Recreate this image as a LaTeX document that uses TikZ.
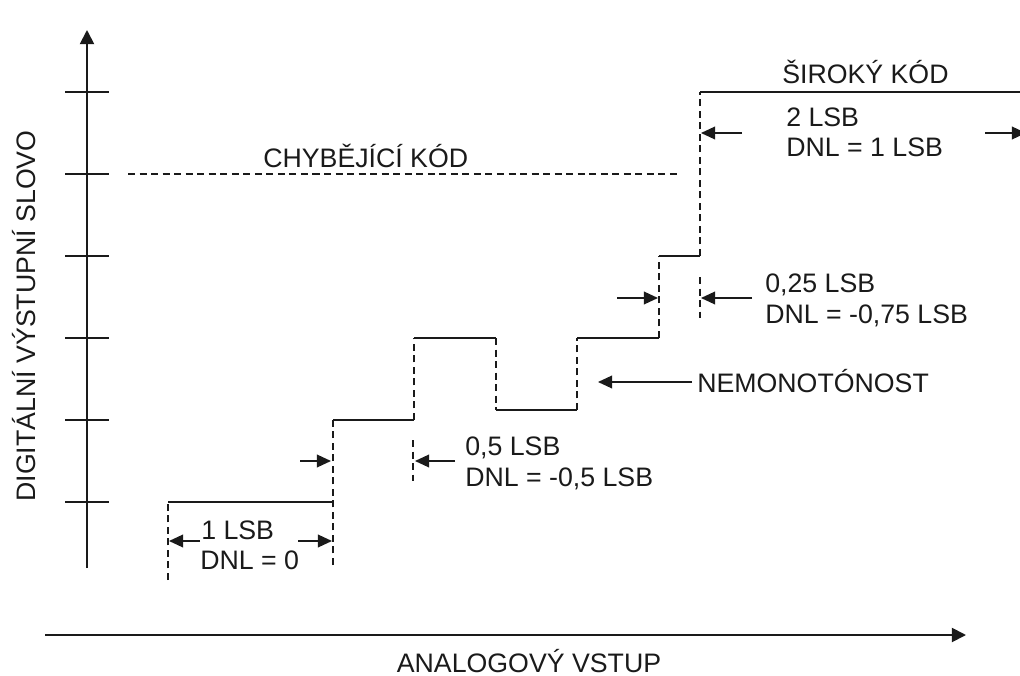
\documentclass[tikz,border=0pt]{standalone}
\usepackage{fontspec}
\setmainfont{Liberation Sans}
\usetikzlibrary{arrows.meta}
\definecolor{PlotInk}{HTML}{1A1A1A}
\tikzset{
  plot/.style={x=0.025cm,y=-0.025cm,font=\fontsize{19}{23}\selectfont,text=PlotInk},
  axis/.style={line width=1.3pt,draw=PlotInk,-{Triangle[length=10pt,width=10pt]}},
  tick/.style={line width=1.1pt,draw=PlotInk},
  level/.style={line width=1.1pt,draw=PlotInk},
  edge/.style={line width=1.3pt,draw=PlotInk,dash pattern=on 5pt off 3.2pt},
  span/.style={line width=1.1pt,draw=PlotInk,-{Triangle[length=10pt,width=9pt]}},
  label/.style={inner sep=0pt,anchor=base west},
}

\begin{document}
\begin{tikzpicture}[plot]
  \useasboundingbox (0,0) rectangle (1020,676);

  % axes
  \coordinate (yfoot) at (87,568);
  \coordinate (ytip) at (87,30);
  \coordinate (xfoot) at (45,635);
  \coordinate (xtip) at (966,635);
  \draw[axis] (yfoot) -- (ytip);
  \draw[axis] (xfoot) -- (xtip);
  \foreach \y in {92,174,256,338,420,502}
    \draw[tick] (65,\y) -- (109,\y);
  \node[anchor=base] (xlabel) at (529,672) {ANALOGOVÝ VSTUP};
  \node[anchor=base,rotate=90] (ylabel) at (35,316) {DIGITÁLNÍ VÝSTUPNÍ SLOVO};

  % transfer staircase
  \coordinate (s0) at (168,502);  \coordinate (s1) at (333,502);
  \coordinate (s2) at (333,420);  \coordinate (s3) at (414,420);
  \coordinate (s4) at (414,338);  \coordinate (s5) at (496,338);
  \coordinate (s6) at (496,410);  \coordinate (s7) at (577,410);
  \coordinate (s8) at (577,338);  \coordinate (s9) at (659,338);
  \coordinate (s10) at (659,256); \coordinate (s11) at (700,256);
  \coordinate (s12) at (700,92);  \coordinate (s13) at (1020,92);
  \draw[level] (s0) -- (s1);
  \draw[level] (s2) -- (s3);
  \draw[level] (s4) -- (s5);
  \draw[level] (s6) -- (s7);
  \draw[level] (s8) -- (s9);
  \draw[level] (s10) -- (s11);
  \draw[level] (s12) -- (s13);

  \coordinate (d0) at (168,580);
  \coordinate (d1) at (333,565);
  \draw[edge] (d0) -- (s0);
  \draw[edge] (d1) -- (s2);
  \draw[edge] (s3) -- (s4);
  \draw[edge] (s5) -- (s6);
  \draw[edge] (s7) -- (s8);
  \draw[edge] (s9) -- (s10);
  \draw[edge] (s11) -- (s12);
  \draw[edge] (413,440) -- (413,481);
  \draw[edge] (700,277) -- (700,318);

  % missing code
  \coordinate (m0) at (128,174);
  \coordinate (m1) at (680,174);
  \draw[edge] (m0) -- (m1);
  \node[label] (missing) at (263,168) {CHYBĚJÍCÍ KÓD};

  % 1 LSB
  \node[label] (lsbA) at (201,539) {1 LSB};
  \node[label] (dnlA) at (200,569) {DNL = 0};
  \draw[span] (200,541) -- (169,541);
  \draw[span] (298,541) -- (332,541);

  % 0,5 LSB
  \node[label] (lsbB) at (465,455) {0,5 LSB};
  \node[label] (dnlB) at (465,486) {DNL = -0,5 LSB};
  \draw[span] (300,461) -- (331,461);
  \draw[span] (455,461) -- (415,461);

  % non-monotonic
  \node[label] (nemo) at (697,392) {NEMONOTÓNOST};
  \coordinate (nemotip) at (598,382);
  \draw[span] (nemo.west |- nemotip) ++(-5,0) -- (nemotip);

  % 0,25 LSB
  \node[label] (lsbC) at (765,292) {0,25 LSB};
  \node[label] (dnlC) at (765,323) {DNL = -0,75 LSB};
  \draw[span] (617,298) -- (658,298);
  \draw[span] (752,298) -- (701,298);

  % wide code
  \node[label] (wide) at (782,84) {ŠIROKÝ KÓD};
  \node[label] (lsbD) at (786,127) {2 LSB};
  \node[label] (dnlD) at (786,157) {DNL = 1 LSB};
  \draw[span] (742,133) -- (701,133);
  \draw[span] (985,133) -- (1026,133);
\end{tikzpicture}
\end{document}
